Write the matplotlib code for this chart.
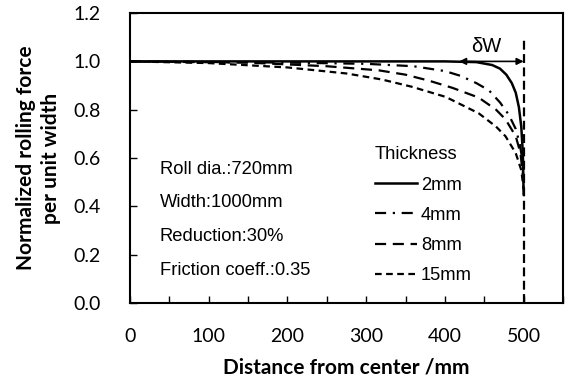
import matplotlib
matplotlib.use("Agg")
import matplotlib.pyplot as plt
from matplotlib.ticker import MultipleLocator, FormatStrFormatter

# distance from strip center (mm) and normalized rolling force
x_2mm = [0, 400, 440, 460, 470, 478, 485, 490, 494, 497, 499, 500]
y_2mm = [1.0, 1.0, 0.997, 0.985, 0.97, 0.945, 0.91, 0.87, 0.81, 0.73, 0.62, 0.45]

x_4mm = [0, 200, 300, 360, 400, 420, 440, 456, 470, 481, 490, 495, 498, 500]
y_4mm = [1.0, 0.995, 0.99, 0.98, 0.96, 0.94, 0.91, 0.88, 0.83, 0.78, 0.72, 0.66, 0.60, 0.50]

x_8mm = [0, 150, 250, 316, 350, 380, 410, 443, 465, 477, 490, 496, 500]
y_8mm = [1.0, 0.995, 0.98, 0.963, 0.945, 0.92, 0.89, 0.85, 0.80, 0.76, 0.69, 0.62, 0.50]

x_15mm = [0, 100, 200, 275, 320, 358, 401, 443, 465, 477, 490, 497, 500]
y_15mm = [1.0, 0.993, 0.975, 0.95, 0.925, 0.895, 0.853, 0.785, 0.73, 0.69, 0.62, 0.55, 0.47]

labels = ["2mm", "4mm", "8mm", "15mm"]
conditions = ["Roll dia.:720mm", "Width:1000mm", "Reduction:30%", "Friction coeff.:0.35"]
edge_x = 500
dw_start = 418

label_font = "Lato"
text_font = "Liberation Sans"

fig = plt.figure(figsize=(5.66, 3.8), dpi=100)
ax = fig.add_axes([0.2297, 0.2026, 0.765, 0.763])

styles = [
    dict(linestyle="-", linewidth=1.8),
    dict(linestyle=(0, (5, 3, 1, 3)), linewidth=1.6),
    dict(linestyle=(0, (5, 3)), linewidth=1.6),
    dict(linestyle=(0, (3, 2)), linewidth=1.6),
]
series = [(x_2mm, y_2mm), (x_4mm, y_4mm), (x_8mm, y_8mm), (x_15mm, y_15mm)]
for (xs, ys), lab, st in zip(series, labels, styles):
    ax.plot(xs, ys, color="black", label=lab, **st)

# strip edge
ax.plot([edge_x, edge_x], [0, 1.1], color="black", linestyle=(0, (4, 2)), linewidth=1.6)

# delta W arrow
ax.annotate("", xy=(dw_start, 1.0), xytext=(edge_x, 1.0),
            arrowprops=dict(arrowstyle="<|-|>", color="black", lw=1.2,
                            shrinkA=0, shrinkB=0, mutation_scale=10))
ax.text(452, 1.06, "δW", ha="center", va="center", fontsize=14.5, family=text_font)

for i, s in enumerate(conditions):
    ax.text(38, 0.554 - i * 0.14, s, ha="left", va="center", fontsize=13.2,
            family=text_font)

leg = ax.legend(title="Thickness", loc="upper left", bbox_to_anchor=(0.566, 0.54),
                frameon=False, handlelength=2.3, handletextpad=0.2,
                labelspacing=0.72, borderpad=0, borderaxespad=0,
                prop={"family": text_font, "size": 13.2}, alignment="left")
leg.get_title().set_family(text_font)
leg.get_title().set_fontsize(13.2)

ax.set_xlim(0, 550)
ax.set_ylim(0, 1.2)
ax.xaxis.set_major_locator(MultipleLocator(100))
ax.xaxis.set_minor_locator(MultipleLocator(50))
ax.yaxis.set_major_locator(MultipleLocator(0.2))
ax.yaxis.set_major_formatter(FormatStrFormatter("%.1f"))
ax.tick_params(which="both", direction="in", top=False, right=False,
               width=1, labelsize=14)
ax.tick_params(axis="y", which="major", length=5, pad=21)
ax.tick_params(axis="x", which="major", length=5, pad=18)
ax.tick_params(which="minor", length=5)
for lab in ax.get_xticklabels() + ax.get_yticklabels():
    lab.set_family(label_font)
for sp in ax.spines.values():
    sp.set_linewidth(1.5)

ax.set_xlabel("Distance from center /mm", fontsize=15, fontweight="bold",
              family=label_font, labelpad=9)
ax.set_ylabel("Normalized rolling force\nper unit width", fontsize=15,
              fontweight="bold", family=label_font, labelpad=9, linespacing=1.3)

fig.savefig("out.png", dpi=100)
